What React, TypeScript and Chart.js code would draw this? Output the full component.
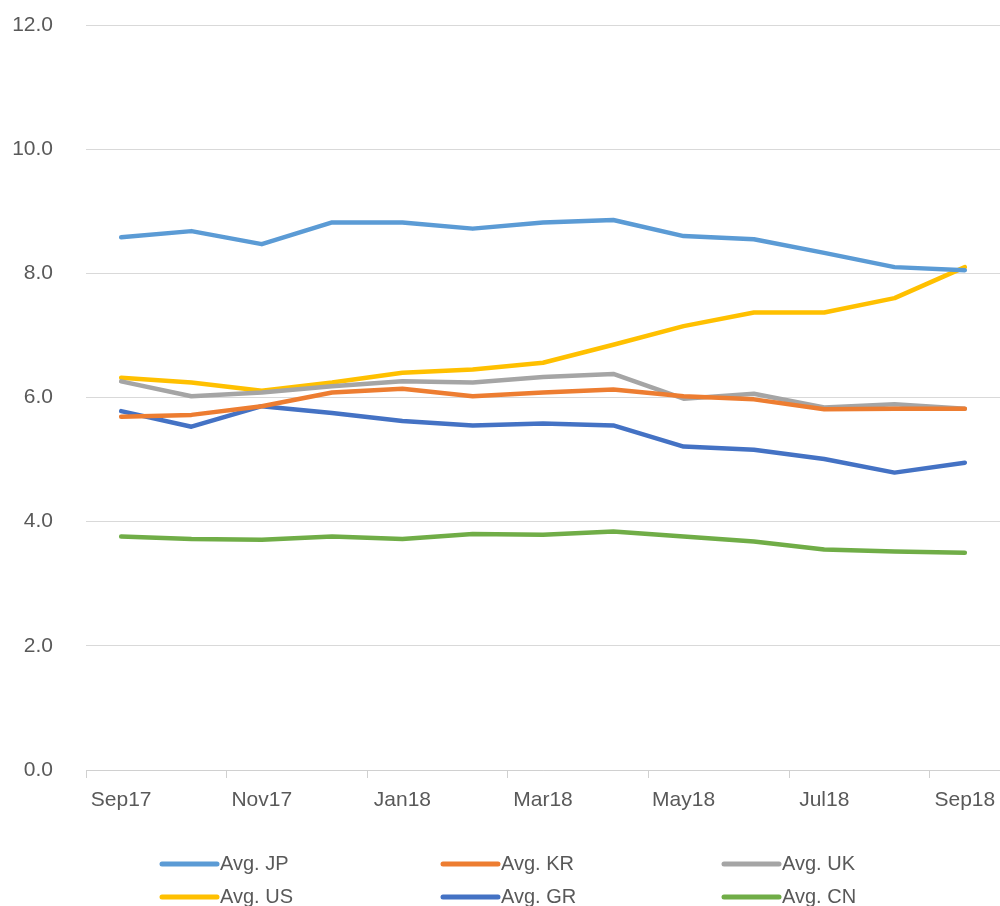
import React, { useEffect, useRef } from "react";
import { Chart, registerables } from "chart.js";

Chart.register(...registerables);

const categories = ["Sep17", "Oct17", "Nov17", "Dec17", "Jan18", "Feb18", "Mar18", "Apr18", "May18", "Jun18", "Jul18", "Aug18", "Sep18"];
const seriesNames = ["Avg. JP", "Avg. KR", "Avg. UK", "Avg. US", "Avg. GR", "Avg. CN"];
const seriesColors = ["#5b9bd5", "#ed7d31", "#a5a5a5", "#ffc000", "#4472c4", "#70ad47"];
const avgJP = [8.58, 8.68, 8.47, 8.82, 8.82, 8.72, 8.82, 8.86, 8.6, 8.55, 8.33, 8.1, 8.05];
const avgKR = [5.69, 5.72, 5.86, 6.08, 6.14, 6.02, 6.08, 6.13, 6.02, 5.97, 5.81, 5.82, 5.82];
const avgUK = [6.26, 6.02, 6.08, 6.18, 6.26, 6.24, 6.33, 6.38, 5.98, 6.06, 5.84, 5.89, 5.82];
const avgUS = [6.32, 6.24, 6.11, 6.24, 6.4, 6.45, 6.56, 6.85, 7.15, 7.37, 7.37, 7.6, 8.1];
const avgGR = [5.78, 5.53, 5.86, 5.75, 5.62, 5.55, 5.58, 5.55, 5.21, 5.16, 5.01, 4.79, 4.95];
const avgCN = [3.76, 3.72, 3.71, 3.76, 3.72, 3.8, 3.79, 3.84, 3.76, 3.68, 3.55, 3.52, 3.5];
const seriesValues = [avgJP, avgKR, avgUK, avgUS, avgGR, avgCN];
const yMin = 0;
const yMax = 12;
const yStep = 2;

const FONT = "'Liberation Sans', Arial, sans-serif";
const TEXT = "#595959";

const legendPlugin = {
  id: "gridLegend",
  afterDraw(chart: any) {
    const ctx = chart.ctx;
    ctx.save();
    chart.data.datasets.forEach((ds: any, i: number) => {
      const col = i % 3;
      const row = Math.floor(i / 3);
      const x = 162 + col * 281;
      const y = 864 + row * 33;
      ctx.strokeStyle = ds.borderColor;
      ctx.lineWidth = 5;
      ctx.lineCap = "round";
      ctx.beginPath();
      ctx.moveTo(x, y);
      ctx.lineTo(x + 55, y);
      ctx.stroke();
      ctx.fillStyle = TEXT;
      ctx.font = `20px ${FONT}`;
      ctx.textBaseline = "middle";
      ctx.textAlign = "left";
      ctx.fillText(ds.label, x + 58, y);
    });
    ctx.restore();
  },
};

export default function App() {
  const ref = useRef<HTMLCanvasElement | null>(null);
  useEffect(() => {
    document.body.style.margin = "0";
    const canvas = ref.current;
    if (!canvas) return;
    const chart = new Chart(canvas, {
      type: "line",
      data: {
        labels: categories,
        datasets: seriesNames.map((name, i) => ({
          label: name,
          data: seriesValues[i],
          borderColor: seriesColors[i],
          backgroundColor: seriesColors[i],
          borderWidth: 4.5,
          pointRadius: 0,
          tension: 0,
          fill: false,
          borderCapStyle: "round",
          borderJoinStyle: "round",
        })),
      },
      options: {
        animation: false,
        responsive: false,
        layout: { padding: { top: 25, right: 0, bottom: 76, left: 0 } },
        plugins: { legend: { display: false }, tooltip: { enabled: false } },
        scales: {
          x: {
            type: "category",
            offset: true,
            afterFit: (s: any) => {
              s.height = 60;
              s.paddingLeft = 0;
              s.paddingRight = 0;
            },
            grid: {
              offset: true,
              drawOnChartArea: false,
              drawTicks: true,
              tickLength: 8,
              color: (c: any) => (c.index % 2 === 0 ? "#d0d0d0" : "rgba(0,0,0,0)"),
              tickColor: (c: any) => (c.index % 2 === 0 ? "#d0d0d0" : "rgba(0,0,0,0)"),
            },
            border: { display: true, color: "#d0d0d0", width: 1 },
            ticks: {
              autoSkip: false,
              maxRotation: 0,
              padding: 10,
              color: TEXT,
              font: { family: FONT, size: 21 },
              callback: (_v: any, i: number) => (i % 2 === 0 ? categories[i] : ""),
            },
          },
          y: {
            min: yMin,
            max: yMax,
            afterFit: (s: any) => {
              s.width = 86;
              s.paddingTop = 0;
              s.paddingBottom = 0;
            },
            grid: { color: "#d9d9d9", lineWidth: 1, drawTicks: false },
            border: { display: false },
            ticks: {
              stepSize: yStep,
              padding: 33,
              color: TEXT,
              font: { family: FONT, size: 21 },
              callback: (v: any) => Number(v).toFixed(1),
            },
          },
        },
      },
      plugins: [legendPlugin],
    } as any);
    return () => chart.destroy();
  }, []);
  return (
    <div style={{ width: 1000, height: 906, background: "#fff" }}>
      <canvas ref={ref} width={1000} height={906} />
    </div>
  );
}
